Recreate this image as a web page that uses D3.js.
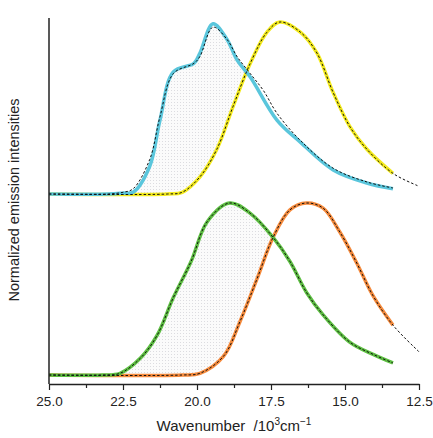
<!DOCTYPE html>
<html>
<head>
<meta charset="utf-8">
<script src="https://cdn.jsdelivr.net/npm/d3@7"></script>
<style>
  body { margin: 0; background: #fff; }
  text { font-family: "Liberation Sans", Arial, sans-serif; fill: #222; }
</style>
</head>
<body>
<div id="chart"></div>
<script>
// Data: [wavenumber (10^3 cm^-1), normalized intensity]
var blueData = [[25,0],[23,0],[22.5,0.005],[22.16,0.01],[21.6,0.16],[21.25,0.43],[20.8,0.71],[20.1,0.76],[19.9,0.82],[19.46,0.99],[18.99,0.9],[18.65,0.78],[18.2,0.68],[17.3,0.43],[16.5,0.3],[15.4,0.14],[14.26,0.064],[13.38,0.03]];
var blueFit = [[25,0],[23,0],[22.5,0.01],[22.16,0.03],[21.6,0.2],[21.25,0.45],[20.8,0.7],[20.1,0.76],[19.9,0.8],[19.46,0.97],[18.99,0.9],[18.65,0.8],[18.2,0.7],[17.75,0.6],[17.3,0.47],[16.5,0.31],[15.4,0.15],[14.26,0.07],[13.38,0.035]];
var yellowData = [[25,0],[21,0],[20.5,0.01],[19.9,0.1],[19.33,0.26],[18.78,0.51],[18.2,0.76],[17.64,0.94],[17.2,1.0],[16.5,0.94],[15.95,0.82],[15.4,0.59],[14.83,0.39],[14.26,0.26],[13.38,0.12]];
var yellowFit = yellowData.concat([[12.57,0.05],[12.5,0.045]]);
var greenData = [[25,0],[23.2,0],[22.6,0.01],[21.9,0.1],[21.35,0.23],[20.8,0.45],[20.2,0.66],[19.66,0.89],[18.9,1.0],[18.2,0.94],[17.43,0.8],[16.86,0.66],[16.3,0.48],[15.74,0.35],[14.83,0.19],[14.05,0.12],[13.38,0.07]];
var orangeData = [[25,0],[20.5,0],[19.9,0.01],[19.1,0.11],[18.55,0.31],[17.97,0.56],[17.43,0.8],[16.86,0.96],[16.3,1.0],[15.74,0.97],[15.17,0.83],[14.6,0.65],[14.05,0.46],[13.38,0.29]];
var orangeFit = orangeData.concat([[12.53,0.14],[12.5,0.135]]);
var xTicks = [25, 22.5, 20, 17.5, 15, 12.5];
var xMinorTicks = [23.75, 21.25, 18.75, 16.25, 13.75];

var width = 433, height = 438;
var svg = d3.select("#chart").append("svg").attr("width", width).attr("height", height);

var x = d3.scaleLinear().domain([25, 12.5]).range([49, 419]);
var yTop = d3.scaleLinear().domain([0, 1]).range([194, 22]);
var yBot = d3.scaleLinear().domain([0, 1]).range([375, 203]);

// dotted shading pattern
var pat = svg.append("defs").append("pattern")
    .attr("id", "dots").attr("width", 3).attr("height", 3)
    .attr("patternUnits", "userSpaceOnUse");
pat.append("rect").attr("width", 3).attr("height", 3).attr("fill", "#fbfbfb");
pat.append("rect").attr("width", 1).attr("height", 1).attr("fill", "#dcdce0");

function panel(y, meas, measFit, ref, refFit, c1, c2, id) {
    var line = d3.line().x(d => x(d[0])).y(d => y(d[1])).curve(d3.curveCatmullRom);
    var area = d3.area().x(d => x(d[0])).y0(y(0)).y1(d => y(d[1])).curve(d3.curveCatmullRom);
    // clip: region above the reference curve
    var above = d3.area().x(d => x(d[0])).y0(0).y1(d => y(d[1])).curve(d3.curveCatmullRom);
    svg.select("defs").append("clipPath").attr("id", id)
        .append("path").attr("d", above(ref));
    svg.append("path").attr("d", area(meas)).attr("fill", "url(#dots)")
        .attr("clip-path", "url(#" + id + ")");

    svg.append("path").attr("d", line(ref)).attr("fill", "none")
        .attr("stroke", c2).attr("stroke-width", 3.5);
    svg.append("path").attr("d", line(meas)).attr("fill", "none")
        .attr("stroke", c1).attr("stroke-width", 3.5);
    svg.append("path").attr("d", line(refFit)).attr("fill", "none")
        .attr("stroke", "#111").attr("stroke-width", 1).attr("stroke-dasharray", "2.5,2");
    svg.append("path").attr("d", line(measFit)).attr("fill", "none")
        .attr("stroke", "#111").attr("stroke-width", 1).attr("stroke-dasharray", "2.5,2");
}

panel(yTop, blueData, blueFit, yellowData, yellowFit, "#5ac6dc", "#f3ea1c", "clipTop");
panel(yBot, greenData, greenData, orangeData, orangeFit, "#5dbf42", "#f58a3c", "clipBot");

// axes
var xAxis = d3.axisBottom(x).tickValues(xTicks).tickFormat(d3.format(".1f"))
    .tickSize(6).tickSizeOuter(0);
var gx = svg.append("g").attr("transform", "translate(0,384)").call(xAxis);
gx.select(".domain").attr("stroke", "#222").attr("stroke-width", 1.5);
gx.selectAll(".tick line").attr("stroke", "#222").attr("stroke-width", 1.2);
gx.selectAll(".tick text").attr("font-size", 13.5).attr("dy", "0.95em")
    .style("font-family", "Liberation Sans, Arial, sans-serif").attr("fill", "#222");
svg.append("g").attr("transform", "translate(0,384)")
    .call(d3.axisBottom(x).tickValues(xMinorTicks).tickFormat("").tickSize(4))
    .call(g => g.select(".domain").remove())
    .selectAll("line").attr("stroke", "#222").attr("stroke-width", 1.2);

svg.append("line").attr("x1", 49).attr("x2", 49).attr("y1", 18).attr("y2", 384)
    .attr("stroke", "#222").attr("stroke-width", 1.5);

// labels
var xl = svg.append("text").attr("x", 234).attr("y", 431).attr("text-anchor", "middle")
    .attr("font-size", 15);
xl.append("tspan").text("Wavenumber \u00a0/10");
xl.append("tspan").attr("dy", -6).attr("font-size", 10).text("3");
xl.append("tspan").attr("dy", 6).text("cm");
xl.append("tspan").attr("dy", -6).attr("font-size", 10).text("\u22121");

svg.append("text").attr("transform", "translate(19,200) rotate(-90)")
    .attr("text-anchor", "middle").attr("font-size", 14.5)
    .text("Normalized emission intensities");
</script>
</body>
</html>
